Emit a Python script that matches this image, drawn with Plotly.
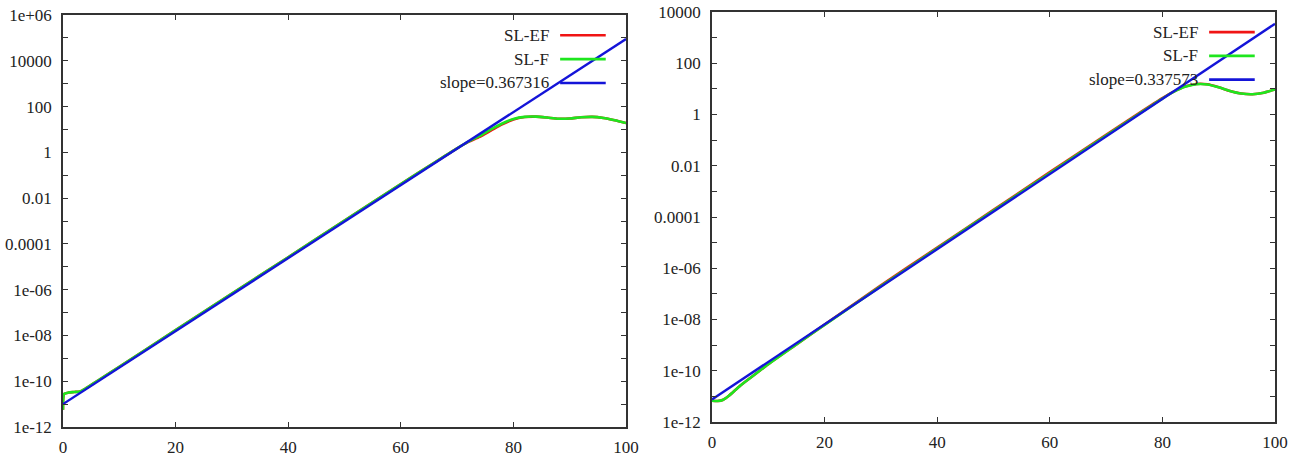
import plotly.graph_objects as go

# ---------------- data ----------------
# Left panel
left_t_F = [0, 0.2, 1, 2, 3, 4, 6, 10, 20, 30, 40, 50, 60, 66, 70, 72, 74, 76, 78, 80,
            82, 84, 86, 88, 90, 92, 94, 96, 98, 100]
left_SL_F = [5.6e-12, 2.8e-11, 3.2e-11, 3.4e-11, 3.6e-11, 4.8e-11, 1.0e-10, 4.3e-10, 1.7e-8,
             6.8e-7, 2.6e-5, 1.05e-3, 0.041, 0.36, 1.5, 2.95, 5.2, 10.0, 18.2, 28.8,
             35.5, 36.3, 33.1, 29.5, 30.2, 33.9, 35.5, 31.6, 25.1, 19.1]
left_SL_EF = [5.6e-12, 2.8e-11, 3.2e-11, 3.4e-11, 3.6e-11, 4.8e-11, 1.0e-10, 4.3e-10, 1.7e-8,
              6.8e-7, 2.6e-5, 1.05e-3, 0.041, 0.36, 1.5, 2.85, 4.8, 8.9, 16.6, 27.5,
              35.0, 36.3, 33.1, 29.5, 30.2, 33.9, 35.5, 31.6, 25.1, 19.1]
left_fit_t = [0, 100]
left_fit = [1.0e-11, 8.9e4]
left_slope_label = "slope=0.367316"

# Right panel
right_t_F = [0, 1, 2, 3, 5, 8, 10, 15, 20, 30, 40, 50, 60, 70, 76, 80, 82, 84, 86, 88,
             90, 92, 94, 96, 98, 100]
right_SL_F = [6.8e-12, 6.6e-12, 7.4e-12, 1.05e-11, 2.6e-11, 8.3e-11, 1.8e-10, 1.07e-9, 6.2e-9,
              2.0e-7, 6.0e-6, 1.78e-4, 5.2e-3, 0.15, 1.12, 4.2, 7.6, 12.0, 15.1, 14.8,
              11.5, 8.3, 6.6, 6.2, 7.1, 9.5]
right_SL_EF = [6.8e-12, 6.6e-12, 7.4e-12, 1.05e-11, 2.6e-11, 8.3e-11, 1.8e-10, 1.07e-9, 6.3e-9,
               2.15e-7, 6.4e-6, 1.9e-4, 5.6e-3, 0.16, 1.2, 4.4, 7.8, 12.3, 15.6, 15.1,
               11.6, 8.3, 6.6, 6.2, 7.1, 9.5]
right_fit_t = [0, 100]
right_fit = [7.6e-12, 3.47e3]
right_slope_label = "slope=0.337573"

x_ticks = [0, 20, 40, 60, 80, 100]
left_y_ticks = [1e-12, 1e-11, 1e-10, 1e-9, 1e-8, 1e-7, 1e-6, 1e-5, 1e-4, 1e-3, 1e-2,
                1e-1, 1, 10, 100, 1e3, 1e4, 1e5, 1e6]
left_y_text = ["1e-12", "", "1e-10", "", "1e-08", "", "1e-06", "", "0.0001", "", "0.01",
               "", "1", "", "100", "", "10000", "", "1e+06"]
right_y_ticks = left_y_ticks[:17]
right_y_text = left_y_text[:17]

# ---------------- styling ----------------
RED = "#f01414"
GREEN = "#1ee61e"
BLUE = "#1414d8"
AXC = "#333333"
FONT = dict(family="Liberation Serif, Times New Roman, serif", size=17, color="#222222")
W, H = 1305, 460

fig = go.Figure()

def add_panel(xa, ya, t_ef, ef, t_f, f, t_fit, fit):
    fig.add_trace(go.Scatter(x=t_ef, y=ef, mode="lines", name="SL-EF",
                             line=dict(color=RED, width=2.6, shape="spline", smoothing=0.6),
                             xaxis=xa, yaxis=ya, showlegend=False))
    fig.add_trace(go.Scatter(x=t_f, y=f, mode="lines", name="SL-F",
                             line=dict(color=GREEN, width=2.6, shape="spline", smoothing=0.6),
                             xaxis=xa, yaxis=ya, showlegend=False))
    fig.add_trace(go.Scatter(x=t_fit, y=fit, mode="lines", name="slope",
                             line=dict(color=BLUE, width=2.4),
                             xaxis=xa, yaxis=ya, showlegend=False))

add_panel("x", "y", left_t_F, left_SL_EF, left_t_F, left_SL_F, left_fit_t, left_fit)
add_panel("x2", "y2", right_t_F, right_SL_EF, right_t_F, right_SL_F, right_fit_t, right_fit)

def xaxis_cfg(dom, anchor):
    return dict(domain=dom, anchor=anchor, range=[0, 100], tickvals=x_ticks,
                ticks="inside", ticklen=5, tickcolor=AXC, tickwidth=1,
                showline=True, linecolor=AXC, linewidth=1.5, mirror="allticks",
                showgrid=False, zeroline=False, tickfont=FONT, ticklabelstandoff=4,
                automargin=False)

def yaxis_cfg(dom, anchor, rng, tv, tt):
    return dict(domain=dom, anchor=anchor, type="log", range=rng, tickvals=tv, ticktext=tt,
                ticks="inside", ticklen=5, tickcolor=AXC, tickwidth=1,
                showline=True, linecolor=AXC, linewidth=1.5, mirror="allticks",
                showgrid=False, zeroline=False, tickfont=FONT, ticklabelstandoff=6,
                automargin=False)

lx = [63 / W, 626 / W]
ly = [1 - 427 / H, 1 - 15 / H]
rx = [712 / W, 1275 / W]
ry = [1 - 422 / H, 1 - 12 / H]

fig.update_layout(
    template="none",
    width=W, height=H,
    margin=dict(l=0, r=0, t=0, b=0, pad=0),
    paper_bgcolor="white", plot_bgcolor="white",
    font=FONT, showlegend=False,
    xaxis=xaxis_cfg(lx, "y"),
    yaxis=yaxis_cfg(ly, "x", [-12, 6], left_y_ticks, left_y_text),
    xaxis2=xaxis_cfg(rx, "y2"),
    yaxis2=yaxis_cfg(ry, "x2", [-12, 4], right_y_ticks, right_y_text),
)

# gnuplot-style key: text right-aligned, sample line to the right
key_rows = [0.951, 0.893, 0.835]
for xa, ya, labels in [("x", "y", ["SL-EF", "SL-F", left_slope_label]),
                       ("x2", "y2", ["SL-EF", "SL-F", right_slope_label])]:
    for yy, lab, col in zip(key_rows, labels, [RED, GREEN, BLUE]):
        fig.add_annotation(x=0.866, y=yy, xref=f"{xa} domain", yref=f"{ya} domain",
                           text=lab, showarrow=False, xanchor="right", yanchor="middle",
                           font=FONT)
        fig.add_shape(type="line", x0=0.883, x1=0.964, y0=yy, y1=yy,
                      xref=f"{xa} domain", yref=f"{ya} domain",
                      line=dict(color=col, width=2.6))

fig.write_html(
    "out.html",
    config={"displayModeBar": False},
    post_script="document.body.style.margin='0';document.body.style.padding='0';"
                "document.body.style.overflow='hidden';",
)
